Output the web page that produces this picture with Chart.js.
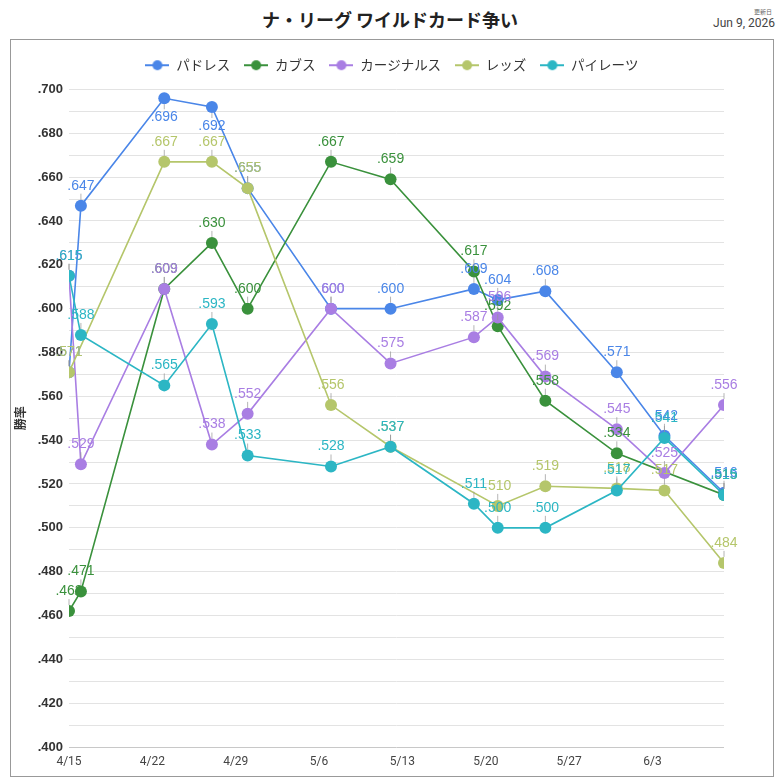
<!DOCTYPE html>
<html><head><meta charset="utf-8">
<script src="https://cdn.jsdelivr.net/npm/chart.js@4.4.1/dist/chart.umd.min.js"></script>
<style>
html,body{margin:0;padding:0;background:#fff;}
body{width:780px;height:780px;position:relative;overflow:hidden;font-family:"Noto Sans CJK JP","Noto Sans",sans-serif;}
#title{position:absolute;left:0;top:5px;width:780px;text-align:center;font-size:18px;font-weight:bold;color:#222;line-height:28px;}
#upd{position:absolute;right:8px;top:8px;font-size:6px;color:#666;line-height:7px;}
#date{position:absolute;right:5px;top:15px;font-size:12px;color:#444;font-family:Roboto,"Liberation Sans",sans-serif;line-height:16px;}
#box{position:absolute;left:10px;top:39px;width:762px;height:736px;border:1px solid #999;}
#wrap{position:relative;width:762px;height:736px;}
</style></head>
<body>
<div id="title">ナ・リーグ ワイルドカード争い</div>
<div id="upd">更新日</div>
<div id="date">Jun 9, 2026</div>
<div id="box"><div id="wrap"><canvas id="c"></canvas></div></div>
<script>
// ---- data ----
const dates = ['4/15','4/16','4/23','4/27','4/30','5/7','5/12','5/19','5/21','5/25','5/31','6/4','6/9'];
const teamNames = ['パドレス','カブス','カージナルス','レッズ','パイレーツ'];
const padres    = [.571,.647,.696,.692,.655,.600,.600,.609,.604,.608,.571,.542,.516];
const cubs      = [.462,.471,.609,.630,.600,.667,.659,.617,.592,.558,.534,null,.515];
const cardinals = [.615,.529,.609,.538,.552,.600,.575,.587,.596,.569,.545,.525,.556];
const reds      = [.571,null,.667,.667,.655,.556,.537,null,.510,.519,.518,.517,.484];
const pirates   = [.615,.588,.565,.593,.533,.528,.537,.511,.500,.500,.517,.541,.515];
const xTickLabels = ['4/15','4/22','4/29','5/6','5/13','5/20','5/27','6/3'];
const xStart = '4/15', xEnd = '6/9';
const yMin = 0.400, yMax = 0.700, yStep = 0.01;

const colors = ['#4a86e8','#3a913c','#a97ee3','#b5c66b','#2cb6c4'];
const series = [padres, cubs, cardinals, reds, pirates];

function day(s){const [m,d]=s.split('/').map(Number);return (Date.UTC(2026,m-1,d)-Date.UTC(2026,3,15))/86400000;}
function fmt(v){return v.toFixed(3).replace(/^0/,'');}

function markerImg(col){
  const c=document.createElement('canvas');c.width=24;c.height=12;
  const g=c.getContext('2d');
  g.strokeStyle=col;g.lineWidth=2;g.beginPath();g.moveTo(0,6);g.lineTo(24,6);g.stroke();
  g.fillStyle=col;g.beginPath();g.arc(12,6,5,0,Math.PI*2);g.fill();
  return c;
}
const markers = colors.map(markerImg);

const datasets = series.map((vals,i)=>({
  label: teamNames[i],
  data: dates.map((d,j)=>({x:day(d), y:vals[j]})),
  borderColor: colors[i],
  backgroundColor: colors[i],
  borderWidth: 1.6,
  pointRadius: 6,
  pointHoverRadius: 6,
  pointBorderWidth: 0,
  tension: 0,
  spanGaps: true,
  order: series.length - i
}));

const labelPlugin = {
  id:'vlabels',
  afterDatasetsDraw(chart){
    const ctx=chart.ctx, area=chart.chartArea;
    ctx.save();
    ctx.font='14px "Liberation Sans", Arial, sans-serif';
    ctx.textAlign='center';ctx.textBaseline='middle';
    chart.data.datasets.forEach((ds,i)=>{
      const meta=chart.getDatasetMeta(i);
      meta.data.forEach((pt,j)=>{
        const v=ds.data[j].y; if(v==null) return;
        const below = pt.y-26 < area.top;
        const ty = below ? pt.y+19 : pt.y-20;
        ctx.strokeStyle='rgba(150,150,150,0.7)';ctx.lineWidth=1;
        ctx.beginPath();
        if(below){ctx.moveTo(pt.x,pt.y+6);ctx.lineTo(pt.x,pt.y+11);}
        else {ctx.moveTo(pt.x,pt.y-6);ctx.lineTo(pt.x,pt.y-12);}
        ctx.stroke();
        ctx.fillStyle=ds.borderColor;
        ctx.fillText(fmt(v),pt.x,ty);
      });
    });
    ctx.restore();
  }
};

const legendSpace = {
  id:'legendSpace',
  beforeInit(chart){
    const orig=chart.legend.fit;
    chart.legend.fit=function(){orig.call(this);this.height+=7.5;};
  },
  afterLayout(chart){
    const shift=(chart.width-(chart.legend.right+chart.legend.left))/2;
    chart.legend.left+=shift;chart.legend.right+=shift;
  }
};

new Chart(document.getElementById('c'),{
  type:'line',
  data:{datasets},
  plugins:[labelPlugin, legendSpace],
  options:{
    responsive:true, maintainAspectRatio:false, animation:false, devicePixelRatio:1, events:[],
    layout:{padding:{top:4.5,left:0,right:49,bottom:0}},
    plugins:{
      tooltip:{enabled:false},
      legend:{
        position:'top',
        labels:{
          usePointStyle:true, pointStyleWidth:24, padding:14, color:'#333',
          font:{size:13.5,family:'"Noto Sans CJK JP", sans-serif'},
          sort:(a,b)=>a.datasetIndex-b.datasetIndex,
          generateLabels(chart){
            const items=Chart.defaults.plugins.legend.labels.generateLabels(chart);
            items.forEach(it=>{it.pointStyle=markers[it.datasetIndex];});
            return items;
          }
        }
      }
    },
    scales:{
      x:{
        type:'linear', min:day(xStart), max:day(xEnd),
        afterBuildTicks:s=>{s.ticks=xTickLabels.map(l=>({value:day(l)}));},
        ticks:{autoSkip:false,maxRotation:0,color:'#444',padding:8,
          font:{size:12,family:'Roboto, "Liberation Sans", sans-serif'},
          callback:v=>{const k=xTickLabels.find(l=>day(l)===v);return k||'';}},
        grid:{display:false,drawTicks:false},
        border:{display:false},
        afterFit:s=>{s.height=29;}
      },
      y:{
        min:yMin, max:yMax,
        ticks:{stepSize:yStep,autoSkip:false,padding:6,color:'#333',
          font:{size:13,weight:'bold',family:'"Liberation Sans", Arial, sans-serif'},
          callback:v=>(Math.round(v*1000)%20===0)?fmt(v):''},
        grid:{drawTicks:false,color:c=>(c.tick && Math.abs(c.tick.value-yMin)<1e-9)?'#c8c8c8':'#e3e3e3'},
        border:{display:false},
        title:{display:true,text:'勝率',color:'#333',padding:{top:2,bottom:0},
          font:{size:12,weight:'bold',family:'"Noto Sans CJK JP", sans-serif'}},
        afterFit:s=>{s.width=58;}
      }
    }
  }
});
</script>
</body></html>
